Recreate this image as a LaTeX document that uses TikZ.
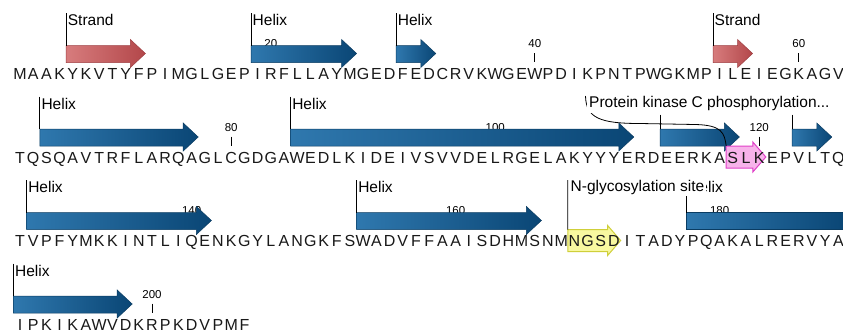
\documentclass[tikz,border=0pt]{standalone}
\usepackage{fontspec}
\setmainfont{Liberation Sans}
\definecolor{hL}{HTML}{2F78AE}
\definecolor{hR}{HTML}{0A4675}
\definecolor{hD}{HTML}{0A3C62}
\definecolor{sL}{HTML}{D77C7D}
\definecolor{sR}{HTML}{B3474A}
\definecolor{sD}{HTML}{9E3E42}
\definecolor{pkF}{HTML}{F7B3EA}
\definecolor{pkD}{HTML}{E040C8}
\definecolor{yF}{HTML}{F8F8A0}
\definecolor{yD}{HTML}{CFCF3A}
\tikzset{
 seq/.style={font=\fontsize{16}{16}\selectfont, anchor=base, inner sep=0pt, text=black!90},
 lab/.style={font=\fontsize{15.5}{16}\selectfont, anchor=west, inner sep=0pt},
 tnum/.style={font=\fontsize{11.5}{12}\selectfont, inner sep=0pt},
 leader/.style={line width=0.8pt, black},
 helixsh/.style={left color=hL, right color=hR, draw=hD, line width=0.5pt},
 strandsh/.style={left color=sL, right color=sR, draw=sD, line width=0.5pt},
 pinkbox/.style={fill=pkF, draw=pkD, line width=1pt},
 yelbox/.style={fill=yF, draw=yD, line width=1pt},
 sitelab/.style={lab, fill=white, inner sep=2pt},
}
% feature arrow: style, rowtop, i, j, name
\newcommand\featarrow[5]{%
 \pgfmathsetmacro\fxa{13.4+(#3-1)*13.2}%
 \pgfmathsetmacro\fxb{13.4+#4*13.2}%
 \pgfmathsetmacro\fxh{\fxb-15}%
 \pgfmathsetmacro\fya{#2+45.5}\pgfmathsetmacro\fyb{#2+62.5}%
 \pgfmathsetmacro\fyc{#2+39.5}\pgfmathsetmacro\fyd{#2+67.5}\pgfmathsetmacro\fym{#2+53.5}%
 \path[#1] (\fxa,\fya) -- (\fxh,\fya) -- (\fxh,\fyc) -- (\fxb,\fym) -- (\fxh,\fyd) -- (\fxh,\fyb) -- (\fxa,\fyb) -- cycle;
 \coordinate (#5) at (\fxa,\fya);}
% site arrow: style, rowtop, i, j, name
\newcommand\sitearrow[5]{%
 \pgfmathsetmacro\fxa{13.4+(#3-1)*13.2}%
 \pgfmathsetmacro\fxb{13.4+#4*13.2}%
 \pgfmathsetmacro\fxh{\fxb-13}%
 \pgfmathsetmacro\fya{#2+62.5}\pgfmathsetmacro\fyb{#2+84.5}%
 \pgfmathsetmacro\fyc{#2+58.5}\pgfmathsetmacro\fyd{#2+88.5}\pgfmathsetmacro\fym{#2+73.5}%
 \path[#1] (\fxa,\fya) -- (\fxh,\fya) -- (\fxh,\fyc) -- (\fxb,\fym) -- (\fxh,\fyd) -- (\fxh,\fyb) -- (\fxa,\fyb) -- cycle;
 \coordinate (#5) at (\fxa,\fya);}
% label: rowtop, i, text, name
\newcommand\featlabel[4]{%
 \pgfmathsetmacro\lx{13.4+(#2-1)*13.2}%
 \pgfmathsetmacro\ly{#1+20}\pgfmathsetmacro\lt{#1+13}\pgfmathsetmacro\lb{#1+45.5}%
 \node[lab] (#4) at (\lx+1.5,\ly) {#3};
 \coordinate (#4t) at (\lx,\lt);
 \coordinate (#4b) at (\lx,\lb);
 \draw[leader] (#4t) -- (#4b);}
% hidden label (only the lower part of its line shows): rowtop, i, name
\newcommand\hiddenlabel[3]{%
 \pgfmathsetmacro\lx{13.4+(#2-1)*13.2}%
 \pgfmathsetmacro\lt{#1+31}\pgfmathsetmacro\lb{#1+45.5}%
 \coordinate (#3t) at (\lx,\lt);
 \coordinate (#3b) at (\lx,\lb);
 \draw[leader] (#3t) -- (#3b);}
% tick: rowtop, i, number, name
\newcommand\seqtick[4]{%
 \pgfmathsetmacro\tx{20+(#2-1)*13.2}%
 \pgfmathsetmacro\tya{#1+44}\pgfmathsetmacro\tyb{#1+53}\pgfmathsetmacro\tyc{#1+62}%
 \node[tnum] (#4) at (\tx,\tya) {#3};
 \coordinate (#4a) at (\tx,\tyb);
 \coordinate (#4b) at (\tx,\tyc);
 \draw[leader] (#4a) -- (#4b);}
\begin{document}
\begin{tikzpicture}[x=1pt,y=-1pt]
\fill[white] (0,0) rectangle (843,335);
\useasboundingbox (0,0) rectangle (843,335);
% ticks
\seqtick{0}{20}{20}{t20}
\seqtick{0}{40}{40}{t40}
\seqtick{0}{60}{60}{t60}
\seqtick{83.5}{17}{80}{t80}
\seqtick{83.5}{37}{100}{t100}
\seqtick{83.5}{57}{120}{t120}
\seqtick{167}{14}{140}{t140}
\seqtick{167}{34}{160}{t160}
\seqtick{167}{54}{180}{t180}
\seqtick{250.5}{11}{200}{t200}
% features row 1
\featarrow{strandsh}{0}{5}{10}{a1}
\featarrow{helixsh}{0}{19}{26}{a2}
\featarrow{helixsh}{0}{30}{32}{a3}
\featarrow{strandsh}{0}{54}{56}{a4}
% row 2
\featarrow{helixsh}{83.5}{3}{14}{a5}
\featarrow{helixsh}{83.5}{22}{47}{a6}
\featarrow{helixsh}{83.5}{50}{55}{a7}
\featarrow{helixsh}{83.5}{60}{62}{a8}
% row 3
\featarrow{helixsh}{167}{2}{15}{a9}
\featarrow{helixsh}{167}{27}{40}{a10}
\path[helixsh] (686.6,212.5) -- (845,212.5) -- (845,229.5) -- (686.6,229.5) -- cycle;
\coordinate (a11) at (686.6,212.5);
% row 4
\featarrow{helixsh}{250.5}{1}{9}{a12}
% sites
\sitearrow{pinkbox}{83.5}{55}{57}{pk}
\sitearrow{yelbox}{167}{43}{46}{ng}
% sequence
\foreach \c [count=\i] in {M,A,A,K,Y,K,V,T,Y,F,P,I,M,G,L,G,E,P,I,R,F,L,L,A,Y,M,G,E,D,F,E,D,C,R,V,K,W,G,E,W,P,D,I,K,P,N,T,P,W,G,K,M,P,I,L,E,I,E,G,K,A,G,V}
  \node[seq] (r1-\i) at ({20+(\i-1)*13.2},79.5) {\c};
\foreach \c [count=\i] in {T,Q,S,Q,A,V,T,R,F,L,A,R,Q,A,G,L,C,G,D,G,A,W,E,D,L,K,I,D,E,I,V,S,V,V,D,E,L,R,G,E,L,A,K,Y,Y,Y,E,R,D,E,E,R,K,A,S,L,K,E,P,V,L,T,Q}
  \node[seq] (r2-\i) at ({20+(\i-1)*13.2},163) {\c};
\foreach \c [count=\i] in {T,V,P,F,Y,M,K,K,I,N,T,L,I,Q,E,N,K,G,Y,L,A,N,G,K,F,S,W,A,D,V,F,F,A,A,I,S,D,H,M,S,N,M,N,G,S,D,I,T,A,D,Y,P,Q,A,K,A,L,R,E,R,V,Y,A}
  \node[seq] (r3-\i) at ({20+(\i-1)*13.2},246.5) {\c};
\foreach \c [count=\i] in {I,P,K,I,K,A,W,V,D,K,R,P,K,D,V,P,M,F}
  \node[seq] (r4-\i) at ({20+(\i-1)*13.2},330) {\c};
% labels
\featlabel{0}{5}{Strand}{l1}
\featlabel{0}{19}{Helix}{l2}
\featlabel{0}{30}{Helix}{l3}
\featlabel{0}{54}{Strand}{l4}
\featlabel{83.5}{3}{Helix}{l5}
\featlabel{83.5}{22}{Helix}{l6}
\hiddenlabel{83.5}{50}{l7}
\hiddenlabel{83.5}{60}{l8}
\featlabel{167}{2}{Helix}{l9}
\featlabel{167}{27}{Helix}{l10}
\featlabel{167}{52}{Helix}{l11}
\featlabel{250.5}{1}{Helix}{l12}
% protein kinase C site label and curved leader
\coordinate (pkt) at (585.5,96);
\draw[leader] (pkt) .. controls (586,118) and (600,123.5) .. (640,123.5) -- (695,124.5) .. controls (722,125) and (724.5,133) .. (pk);
\node[sitelab] (pkl) at (587,103.5) {Protein kinase C phosphorylation...};
% N-glycosylation site label
\coordinate (ngt) at (567.8,180);
\draw[leader] (ngt) -- (ng);
\node[sitelab] (ngl) at (568.5,187) {N-glycosylation site};
\end{tikzpicture}
\end{document}
